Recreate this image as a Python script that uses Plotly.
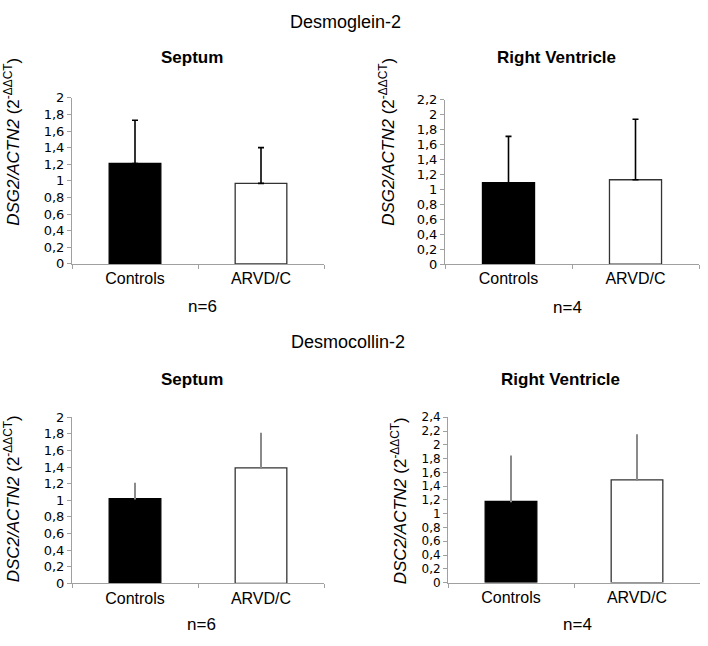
import plotly.graph_objects as go

W, H = 708, 646

categories = ["Controls", "ARVD/C"]

dsg2_septum = [1.21, 0.97]
dsg2_septum_err = [0.52, 0.43]
dsg2_rv = [1.09, 1.13]
dsg2_rv_err = [0.62, 0.81]
dsc2_septum = [1.02, 1.39]
dsc2_septum_err = [0.18, 0.41]
dsc2_rv = [1.18, 1.49]
dsc2_rv_err = [0.65, 0.65]

y_max = [2.0, 2.2, 2.0, 2.4]
section_titles = ["Desmoglein-2", "Desmocollin-2"]
panel_titles = ["Septum", "Right Ventricle", "Septum", "Right Ventricle"]
n_labels = ["n=6", "n=4", "n=6", "n=4"]
gene_labels = ["DSG2", "DSG2", "DSC2", "DSC2"]

FONT = "Arial, Liberation Sans, sans-serif"
TICKFONT = "DejaVu Sans, Arial, sans-serif"

def px_x(x):
    return x / W

def px_y(y):
    return 1 - y / H

# panel boxes in pixel coords: (x0, x1, ytop, ybottom)
boxes = [
    (72, 324, 93, 263),
    (445, 699, 95, 263.3),
    (72, 324, 420, 590),
    (448, 700, 420, 589.3),
]
tick_sizes = [13, 13, 13, 12]

series = [
    (dsg2_septum, dsg2_septum_err, "black", 3, 1.6),
    (dsg2_rv, dsg2_rv_err, "black", 3, 1.6),
    (dsc2_septum, dsc2_septum_err, "#8a8a8a", 1, 2),
    (dsc2_rv, dsc2_rv_err, "#8a8a8a", 1, 2),
]

fig = go.Figure()
layout = {}
for i, (vals, errs, ecol, ew, eth) in enumerate(series):
    k = "" if i == 0 else str(i + 1)
    fig.add_trace(go.Bar(
        x=categories, y=vals,
        xaxis="x" + k, yaxis="y" + k,
        width=0.41,
        marker=dict(color=["black", "white"],
                    line=dict(color=["black", "#333333"], width=1.3)),
        error_y=dict(type="data", symmetric=False, array=errs,
                     arrayminus=[0, 0], color=ecol, thickness=eth, width=ew),
        showlegend=False,
    ))
    x0, x1, yt, yb = boxes[i]
    layout["xaxis" + k] = dict(
        domain=[px_x(x0), px_x(x1)], anchor="y" + k,
        range=[-0.5, 1.5], type="category",
        showline=True, linecolor="#a0a0a0", linewidth=1,
        ticks="outside", tickson="boundaries", ticklen=4, tickcolor="#a0a0a0",
        tickfont=dict(family=FONT, size=16, color="black"),
        showgrid=False, zeroline=False, fixedrange=True,
    )
    layout["yaxis" + k] = dict(
        domain=[px_y(yb), px_y(yt)], anchor="x" + k,
        range=[0, y_max[i]], dtick=0.2, tick0=0,
        showline=True, linecolor="#a0a0a0", linewidth=1,
        ticks="outside", ticklen=4, tickcolor="#a0a0a0",
        tickfont=dict(family=TICKFONT, size=tick_sizes[i], color="black"),
        showgrid=False, zeroline=False, fixedrange=True,
    )

annotations = []

def add_text(text, x, y, size, bold=False, angle=0):
    annotations.append(dict(
        text=("<b>%s</b>" % text) if bold else text,
        x=px_x(x), y=px_y(y), xref="paper", yref="paper",
        xanchor="center", yanchor="middle", showarrow=False,
        textangle=angle,
        font=dict(family=FONT, size=size, color="black"),
    ))

add_text(section_titles[0], 345, 15, 18)
add_text(section_titles[1], 348, 343, 18)

title_pos = [(192, 52), (556, 52), (192, 381), (560, 381)]
n_pos = [(202, 307), (567, 308), (201, 632), (577, 632)]
ytitle_pos = [(12, 138), (387, 138), (12, 504), (399, 506)]
for i in range(4):
    add_text(panel_titles[i], *title_pos[i], 17, bold=True)
    add_text(n_labels[i], *n_pos[i], 17)
    add_text("<i>%s/ACTN2</i> (2<sup>-ΔΔCT</sup>)" % gene_labels[i],
             *ytitle_pos[i], 17, angle=-90)

fig.update_layout(
    width=W, height=H,
    margin=dict(l=0, r=0, t=0, b=0),
    paper_bgcolor="white", plot_bgcolor="white",
    separators=", ",
    annotations=annotations,
    font=dict(family=FONT, color="black"),
    **layout,
)

fig.write_html("out.html", config={"displayModeBar": False},
               post_script="document.body.style.margin='0';")
